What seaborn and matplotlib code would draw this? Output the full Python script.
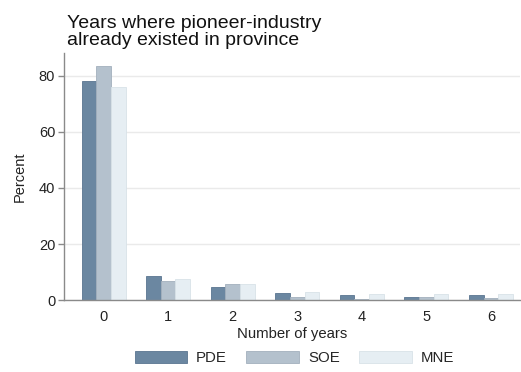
import matplotlib
matplotlib.use("Agg")
import matplotlib.pyplot as plt
import seaborn as sns
import pandas as pd

# Share of firms by number of years the pioneer industry already existed
years = ["0", "1", "2", "3", "4", "5", "6"]
pde = [78.3, 8.7, 4.8, 2.5, 1.7, 1.2, 1.9]
soe = [83.6, 6.9, 5.7, 1.0, 0.3, 1.0, 0.6]
mne = [76.2, 7.5, 5.7, 3.0, 2.1, 2.3, 2.1]
groups = ["PDE", "SOE", "MNE"]
colors = ["#6b87a1", "#b4c1cd", "#e6eef3"]
edge_colors = ["#5a7590", "#a3b0bd", "#d8e2e8"]

df = pd.DataFrame({
    "years": years * 3,
    "percent": pde + soe + mne,
    "group": [g for g in groups for _ in years],
})

sns.set_style("white")
plt.rcParams["font.family"] = ["Liberation Sans", "DejaVu Sans"]

fig = plt.figure(figsize=(5.21, 3.72), dpi=100)
ax = fig.add_axes([0.122, 0.1935, 0.876, 0.664])

sns.barplot(data=df, x="years", y="percent", hue="group", hue_order=groups,
            palette=colors, width=0.68, gap=0, ax=ax, legend=False,
            linewidth=0.6, saturation=1)

# slightly darker outline per series
for cont, ec in zip(ax.containers, edge_colors):
    for bar in cont:
        bar.set_edgecolor(ec)

ax.set_xlim(-0.62, 6.45)
ax.set_ylim(0, 88.2)
ax.set_yticks([0, 20, 40, 60, 80])
ax.yaxis.grid(True, color="#eaeaea", linewidth=1.0)
ax.set_axisbelow(True)

for side in ["top", "right"]:
    ax.spines[side].set_visible(False)
for side in ["left", "bottom"]:
    ax.spines[side].set_color("#8a8a8a")
    ax.spines[side].set_linewidth(1.0)

ax.tick_params(axis="y", left=True, length=4, width=1, color="#8a8a8a",
               labelsize=10.5, labelcolor="#222222", pad=2)
ax.tick_params(axis="x", bottom=False, labelsize=10.5, labelcolor="#222222", pad=4)

ax.set_ylabel("Percent", fontsize=10.5, color="#222222", labelpad=9)
ax.set_xlabel("Number of years", fontsize=10.7, color="#222222", labelpad=2)

fig.text(0.128, 1 - 45 / 372, "Years where pioneer-industry\nalready existed in province",
         fontsize=14, color="#111111", ha="left", va="baseline", linespacing=0.97)

handles = [plt.Rectangle((0, 0), 1, 1, facecolor=c, edgecolor=e, linewidth=0.6)
           for c, e in zip(colors, edge_colors)]
fig.legend(handles, groups, loc="center", bbox_to_anchor=(0.565, 0.037),
           ncol=3, frameon=False, fontsize=10.8, handlelength=3.5,
           handleheight=0.9, handletextpad=0.6, columnspacing=1.3)

fig.savefig("out.png", dpi=100)
